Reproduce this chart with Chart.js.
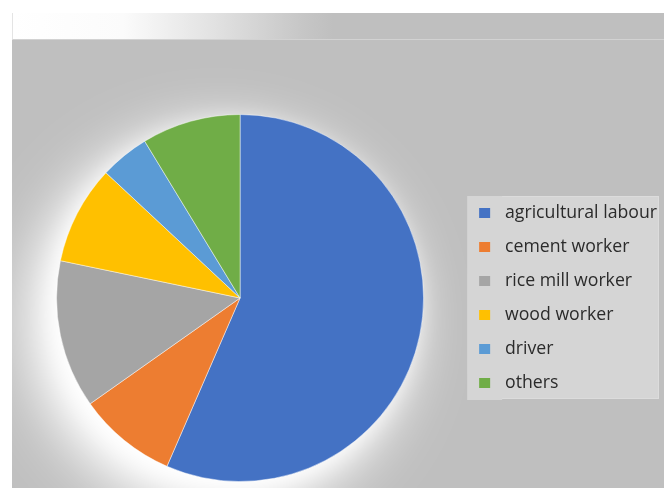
<!DOCTYPE html>
<html>
<head>
<meta charset="utf-8">
<script src="https://cdn.jsdelivr.net/npm/chart.js@4.4.1/dist/chart.umd.min.js"></script>
<style>
  html, body { margin: 0; padding: 0; background: #fff; }
  #wrap { position: relative; width: 664px; height: 488px; overflow: hidden; }
  #panel { position: absolute; left: 12px; top: 40px; width: 652px; height: 448px; background: #bfbfbf; }
  #band { position: absolute; left: 12px; top: 13px; width: 652px; height: 27px;
          background: linear-gradient(to right, #ffffff 0px, #fbfbfb 110px, #e2e2e2 200px, #c6c6c6 290px, #bfbfbf 320px, #bfbfbf 100%);
          border-left: 1px solid #e4e4e4; border-bottom: 1px solid #d2d2d2; box-sizing: border-box; }
  canvas { position: absolute; left: 0; top: 0; }
</style>
</head>
<body>
<div id="wrap">
  <div id="panel"></div>
  <div id="band"></div>
  <canvas id="pie" width="664" height="488"></canvas>
</div>
<script>
// occupations share
const categories = ['agricultural labour', 'cement worker', 'rice mill worker', 'wood worker', 'driver', 'others'];
const counts = [26, 4, 6, 4, 2, 4];
const sliceColors = ['#4472C4', '#ED7D31', '#A5A5A5', '#FFC000', '#5B9BD5', '#70AD47'];

const legendBg = '#d5d5d5';

// soft white glow behind the pie, mostly towards lower left
const glowPlugin = {
    id: 'glow',
    beforeDatasetsDraw(chart){
        const arc = chart.getDatasetMeta(0).data[0];
        if (!arc) return;
        const ctx = chart.ctx;
        ctx.save();
        ctx.fillStyle = '#ffffff';
        ctx.shadowColor = 'rgba(255,255,255,1)';
        [[-24, 26, 80], [-14, 16, 50], [-6, 8, 24]].forEach(([ox, oy, blur]) => {
            ctx.shadowOffsetX = ox;
            ctx.shadowOffsetY = oy;
            ctx.shadowBlur = blur;
            ctx.beginPath();
            ctx.arc(arc.x, arc.y, arc.outerRadius - 4, 0, Math.PI * 2);
            ctx.fill();
        });
        ctx.restore();
    }
};

// grey box under the legend entries
const legendBoxPlugin = {
    id: 'legendBox',
    beforeDraw(chart){
        const lg = chart.legend;
        if (!lg || !lg.legendHitBoxes || !lg.legendHitBoxes.length) return;
        const hb = lg.legendHitBoxes;
        const last = hb[hb.length - 1];
        const top = hb[0].top - 6;
        const bottom = last.top + last.height + 5;
        const left = hb[0].left - 5;
        const right = chart.width - 5;
        const ctx = chart.ctx;
        ctx.save();
        ctx.fillStyle = legendBg;
        ctx.fillRect(left, top, right - left, bottom - top);
        ctx.strokeStyle = '#dcdcdc';
        ctx.lineWidth = 1;
        ctx.strokeRect(left + 0.5, top + 0.5, right - left - 1, bottom - top - 1);
        ctx.restore();
    }
};

new Chart(document.getElementById('pie'), {
    type: 'pie',
    data: {
        labels: categories,
        datasets: [{
            data: counts,
            backgroundColor: sliceColors,
            borderColor: 'rgba(255,255,255,0.45)',
            borderWidth: 1
        }]
    },
    options: {
        responsive: false,
        animation: false,
        layout: { padding: { left: 19, right: -3, top: 114, bottom: 6 } },
        plugins: {
            tooltip: { enabled: false },
            title: { display: false },
            legend: {
                position: 'right',
                labels: {
                    font: { family: '"Open Sans", "Noto Sans", sans-serif', size: 17.7 },
                    color: '#2b2b2b',
                    boxWidth: 23,
                    boxHeight: 22,
                    padding: 12,
                    generateLabels(chart){
                        const items = Chart.overrides.pie.plugins.legend.labels.generateLabels(chart);
                        // thick stroke in the box colour trims the swatch to a small square
                        return items.map(it => Object.assign(it, { strokeStyle: legendBg, lineWidth: 12 }));
                    }
                }
            }
        }
    },
    plugins: [glowPlugin, legendBoxPlugin]
});
</script>
</body>
</html>
